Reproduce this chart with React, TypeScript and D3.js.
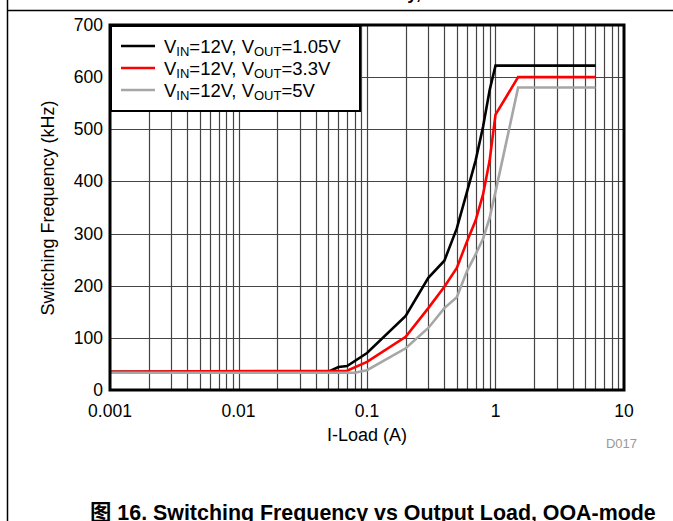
import React, { useRef, useEffect } from 'react';
import * as d3 from 'd3';

// load current (A) and switching frequency (kHz) per curve
const load105 = [0.001, 0.05, 0.06, 0.07, 0.1, 0.2, 0.3, 0.4, 0.5, 0.6, 0.7, 0.8, 0.9, 1.0, 6];
const freq105 = [35, 35, 44, 46, 71, 142, 215, 248, 310, 380, 440, 505, 575, 622, 622];

const load33 = [0.001, 0.07, 0.1, 0.2, 0.3, 0.4, 0.5, 0.6, 0.7, 0.8, 0.9, 1.0, 1.5, 6];
const freq33 = [35, 37, 54, 102, 157, 198, 234, 285, 325, 375, 440, 528, 600, 600];

const load5 = [0.001, 0.08, 0.1, 0.2, 0.3, 0.4, 0.5, 0.6, 0.7, 0.8, 0.9, 1.0, 1.5, 6];
const freq5 = [33, 33, 38, 80, 119, 157, 178, 228, 260, 290, 330, 380, 580, 580];

const seriesVout = ['1.05V', '3.3V', '5V'];
const seriesColors = ['#000000', '#ff0000', '#a6a6a6'];

const xTicks = [0.001, 0.01, 0.1, 1, 10];
const xTickLabels = ['0.001', '0.01', '0.1', '1', '10'];
const yTicks = [0, 100, 200, 300, 400, 500, 600, 700];

const FONT = '"Liberation Sans", Arial, sans-serif';

const App = () => {
  const ref = useRef<SVGSVGElement>(null);

  useEffect(() => {
    const svg = d3.select(ref.current);
    svg.selectAll('*').remove();

    const left = 110, right = 624, top = 25, bottom = 390;
    const x = d3.scaleLog().domain([0.001, 10]).range([left, right]);
    const y = d3.scaleLinear().domain([0, 700]).range([bottom, top]);

    // page frame
    svg.append('line').attr('x1', 7.5).attr('x2', 7.5).attr('y1', 0).attr('y2', 521)
      .attr('stroke', '#000').attr('stroke-width', 1.5);
    svg.append('line').attr('x1', 7).attr('x2', 673).attr('y1', 10.5).attr('y2', 10.5)
      .attr('stroke', '#000').attr('stroke-width', 1.5);
    // heading of the block above, only its descenders show
    svg.append('text').attr('x', 421).attr('y', -1).attr('text-anchor', 'end')
      .attr('font-family', FONT).attr('font-weight', 'bold').attr('font-size', 18)
      .text('Efficiency,');

    // grid
    const minor: number[] = [];
    for (let e = -3; e < 1; e++) {
      for (let k = 1; k < 10; k++) minor.push(k * Math.pow(10, e));
    }
    svg.append('g').selectAll('line').data(minor.filter(d => d > 0.001)).enter().append('line')
      .attr('x1', d => Math.round(x(d)) + 0.5).attr('x2', d => Math.round(x(d)) + 0.5)
      .attr('y1', top).attr('y2', bottom)
      .attr('stroke', '#444').attr('stroke-width', 1.2);
    svg.append('g').selectAll('line').data(yTicks.slice(1, -1)).enter().append('line')
      .attr('x1', left).attr('x2', right)
      .attr('y1', d => Math.round(y(d)) + 0.5).attr('y2', d => Math.round(y(d)) + 0.5)
      .attr('stroke', '#444').attr('stroke-width', 1.2);

    // curves
    const line = d3.line<[number, number]>().x(d => x(d[0])).y(d => y(d[1]));
    const curves: [number, number][][] = [
      load105.map((l, i) => [l, freq105[i]]),
      load33.map((l, i) => [l, freq33[i]]),
      load5.map((l, i) => [l, freq5[i]])
    ];
    svg.append('g').selectAll('path').data(curves).enter().append('path')
      .attr('d', d => line(d))
      .attr('fill', 'none')
      .attr('stroke', (d, i) => seriesColors[i])
      .attr('stroke-width', 2.6)
      .attr('stroke-linejoin', 'miter');

    // legend
    const lg = svg.append('g');
    lg.append('rect').attr('x', 111).attr('y', 26).attr('width', 249).attr('height', 85)
      .attr('fill', '#fff').attr('stroke', '#000').attr('stroke-width', 2);
    seriesVout.forEach((v, i) => {
      const ly = 46 + i * 22;
      lg.append('line').attr('x1', 121).attr('x2', 155).attr('y1', ly).attr('y2', ly)
        .attr('stroke', seriesColors[i]).attr('stroke-width', 2.6);
      const t = lg.append('text').attr('x', 164).attr('y', ly + 7)
        .attr('font-family', FONT).attr('font-size', 18.5);
      t.append('tspan').text('V');
      t.append('tspan').attr('font-size', 13).attr('dy', 3).text('IN');
      t.append('tspan').attr('dy', -3).text('=12V, V');
      t.append('tspan').attr('font-size', 13).attr('dy', 3).text('OUT');
      t.append('tspan').attr('dy', -3).text('=' + v);
    });

    // plot border
    svg.append('rect').attr('x', left).attr('y', top).attr('width', right - left).attr('height', bottom - top)
      .attr('fill', 'none').attr('stroke', '#000').attr('stroke-width', 3);

    // tick labels
    svg.append('g').selectAll('text').data(yTicks).enter().append('text')
      .attr('x', left - 7).attr('y', d => y(d) + 6)
      .attr('text-anchor', 'end').attr('font-family', FONT).attr('font-size', 17.5)
      .text(d => d);
    svg.append('g').selectAll('text').data(xTicks).enter().append('text')
      .attr('x', d => x(d)).attr('y', bottom + 27)
      .attr('text-anchor', 'middle').attr('font-family', FONT).attr('font-size', 17.5)
      .text((d, i) => xTickLabels[i]);

    // axis titles
    svg.append('text').attr('x', 367).attr('y', 441).attr('text-anchor', 'middle')
      .attr('font-family', FONT).attr('font-size', 18).text('I-Load (A)');
    svg.append('text').attr('transform', 'translate(54,208) rotate(-90)').attr('text-anchor', 'middle')
      .attr('font-family', FONT).attr('font-size', 18).text('Switching Frequency (kHz)');
    svg.append('text').attr('x', 637).attr('y', 448).attr('text-anchor', 'end')
      .attr('font-family', FONT).attr('font-size', 13).attr('fill', '#999').text('D017');

    // caption
    svg.append('text').attr('x', 90).attr('y', 520)
      .attr('font-family', '"Liberation Sans", Arial, "Noto Sans CJK SC", sans-serif')
      .attr('font-weight', 'bold').attr('font-size', 21.4)
      .text('图 16. Switching Frequency vs Output Load, OOA-mode');
  }, []);

  return (
    <svg ref={ref} width={673} height={521}
      style={{ position: 'fixed', left: 0, top: 0, background: '#fff' }}></svg>
  );
};

export default App;
